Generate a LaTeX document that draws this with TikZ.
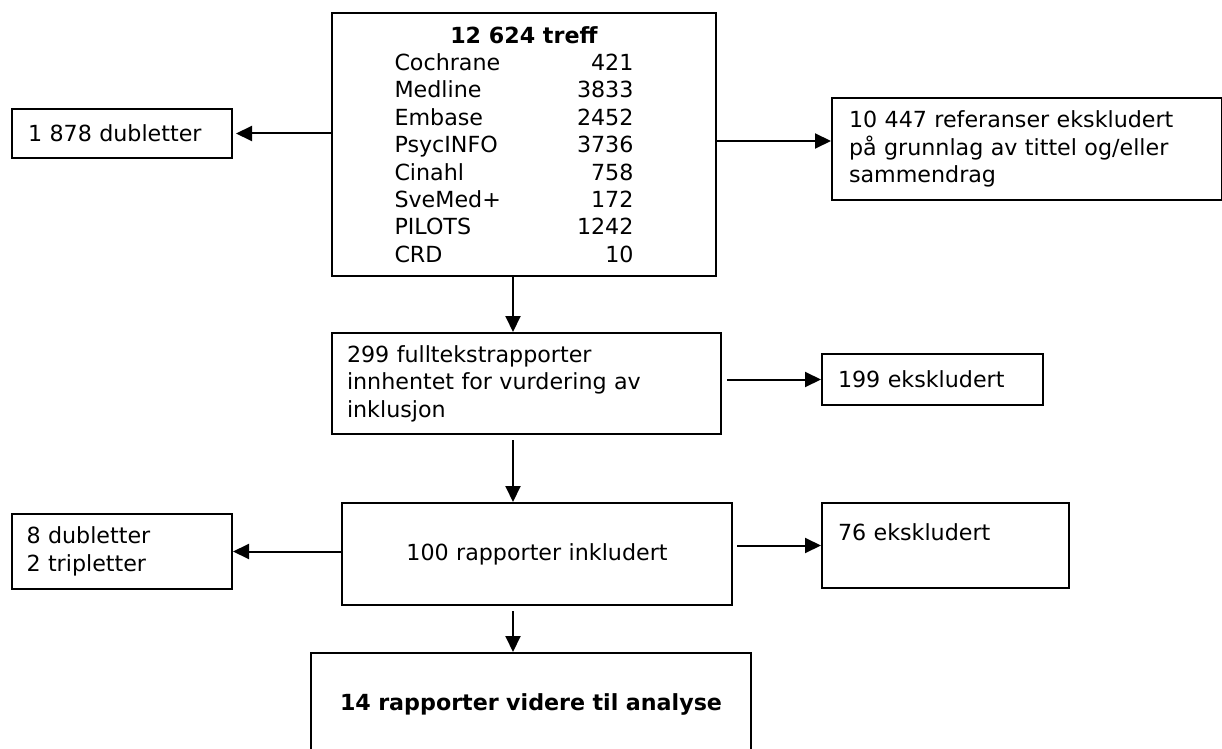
\documentclass[tikz,border=0pt]{standalone}
\usepackage{fontspec}
\setmainfont{DejaVu Sans}
\usetikzlibrary{arrows.meta}
\newcommand{\rad}[2]{\makebox[129.5pt][l]{\makebox[119.5pt]{#1\hfill #2}}}
\tikzstyle{boks}=[draw,line width=1pt,anchor=north west,inner ysep=0pt,font=\fontsize{11.1pt}{13.7pt}\selectfont]
\tikzstyle{venstre}=[boks,align=left]
\tikzstyle{pil}=[line width=1pt,-{Triangle[length=8pt,width=7.5pt]}]

\begin{document}
\begin{tikzpicture}[x=0.5pt,y=-0.5pt]

\useasboundingbox (0,0) rectangle (1222,749);

\node[boks,align=center,inner xsep=0pt,minimum width=192pt,minimum height=131.5pt] (top) at (331,12)
{\textbf{12 624 treff}\\
\rad{Cochrane}{421}\\
\rad{Medline}{3833}\\
\rad{Embase}{2452}\\
\rad{PsycINFO}{3736}\\
\rad{Cinahl}{758}\\
\rad{SveMed+}{172}\\
\rad{PILOTS}{1242}\\
\rad{CRD}{10}};

\node[venstre,inner xsep=8.25pt,text width=93.75pt,minimum height=24.5pt] (dub) at (10.5,108) {1 878 dubletter};
\node[venstre,inner xsep=8.5pt,text width=178pt,minimum height=51pt] (ref) at (831,97)
{10 447 referanser ekskludert\\ på grunnlag av tittel og/eller\\ sammendrag};

\node[venstre,inner xsep=7.75pt,text width=179.25pt,minimum height=50.5pt] (mid) at (330.5,332)
{299 fulltekstrapporter\\ innhentet for vurdering av\\ inklusjon};
\node[venstre,inner xsep=8pt,text width=94.3pt,minimum height=25.5pt] (eks1) at (821,353) {199 ekskludert};

\node[boks,align=center,inner xsep=8pt,text width=179pt,minimum height=51pt] (inc) at (341,502) {100 rapporter inkludert};
\node[venstre,inner xsep=7.5pt,text width=95.25pt,minimum height=37.5pt] (dub2) at (10.5,513) {8 dubletter\\ 2 tripletter};
\node[venstre,inner xsep=8pt,text width=107.5pt,minimum height=42.5pt] (eks2) at (821,502) {76 ekskludert\\ ~};

\node[boks,align=center,inner xsep=8pt,text width=204pt,minimum height=51pt] (final) at (310,652)
{\textbf{14 rapporter videre til analyse}};

\coordinate (midt) at (513,0);

\draw[pil,shorten >=1.5pt] (dub.east -| top.west) -- (dub.east);
\draw[pil] ([yshift=4pt]ref.west -| top.east) -- ([yshift=4pt]ref.west);
\draw[pil] (top.south -| midt) -- (mid.north -| midt);
\draw[pil,shorten <=2.5pt] (eks1.west -| mid.east) -- (eks1.west);
\draw[pil] (dub2.east -| inc.west) -- (dub2.east);
\draw[pil,shorten <=2pt] (eks2.west -| inc.east) -- (eks2.west);

\foreach \a/\b in {mid/inc,inc/final}
\draw[pil,shorten <=2.5pt] (\a.south -| midt) -- (\b.north -| midt);

\end{tikzpicture}
\end{document}
